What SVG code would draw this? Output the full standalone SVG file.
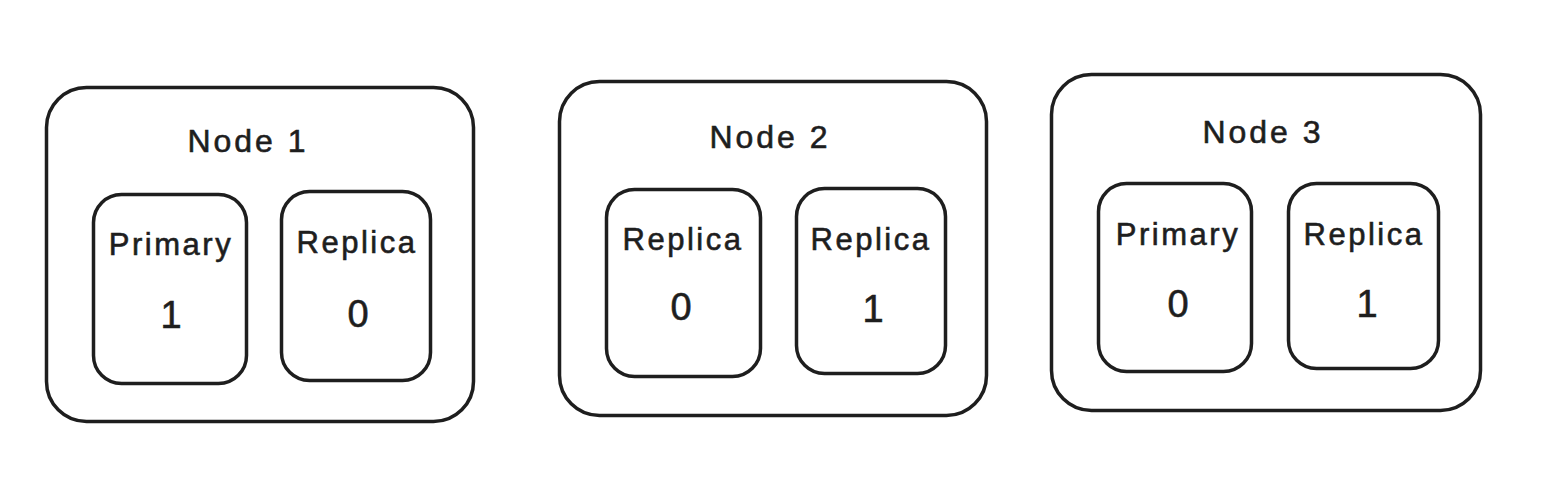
<svg xmlns="http://www.w3.org/2000/svg" width="1552" height="500" viewBox="0 0 1552 500">
<style>
.box{fill:#ffffff;stroke:#1e1e1e;stroke-width:3.5;stroke-linejoin:round}
.t{font-family:"Liberation Sans",Arial,sans-serif;fill:#1e1e1e;stroke:#1e1e1e;stroke-width:0.6;text-anchor:middle}
.title{font-size:32px;letter-spacing:3px}
.lbl{font-size:31px;letter-spacing:2.5px}
.num{font-size:38px}
</style>
<rect width="1552" height="500" fill="#ffffff"/>
<g id="node1">
<rect class="box" x="46.5" y="87.5" width="427" height="334" rx="40"/>
<text class="t title" x="248" y="152">Node 1</text>
<g id="node1-primary">
<rect class="box" x="93.5" y="194.5" width="153" height="189" rx="28"/>
<text class="t lbl" x="171" y="255">Primary</text>
<text class="t num" x="171" y="328">1</text>
</g>
<g id="node1-replica">
<rect class="box" x="281.5" y="191.5" width="149" height="189" rx="28"/>
<text class="t lbl" x="357" y="253">Replica</text>
<text class="t num" x="358" y="327">0</text>
</g>
</g>
<g id="node2">
<rect class="box" x="559.5" y="81.5" width="427" height="334" rx="40"/>
<text class="t title" x="770" y="148">Node 2</text>
<g id="node2-replica0">
<rect class="box" x="606.5" y="189.5" width="154" height="187" rx="28"/>
<text class="t lbl" x="683" y="250">Replica</text>
<text class="t num" x="681" y="320">0</text>
</g>
<g id="node2-replica1">
<rect class="box" x="796.5" y="188.5" width="149" height="185" rx="28"/>
<text class="t lbl" x="871" y="250">Replica</text>
<text class="t num" x="873" y="322">1</text>
</g>
</g>
<g id="node3">
<rect class="box" x="1051.5" y="74.5" width="429" height="336" rx="40"/>
<text class="t title" x="1263" y="143">Node 3</text>
<g id="node3-primary">
<rect class="box" x="1098.5" y="183.5" width="153" height="188" rx="28"/>
<text class="t lbl" x="1178" y="245">Primary</text>
<text class="t num" x="1178" y="317">0</text>
</g>
<g id="node3-replica">
<rect class="box" x="1288.5" y="183.5" width="150" height="185" rx="28"/>
<text class="t lbl" x="1364" y="245">Replica</text>
<text class="t num" x="1367" y="317">1</text>
</g>
</g>
<g id="connectors"></g>
</svg>
